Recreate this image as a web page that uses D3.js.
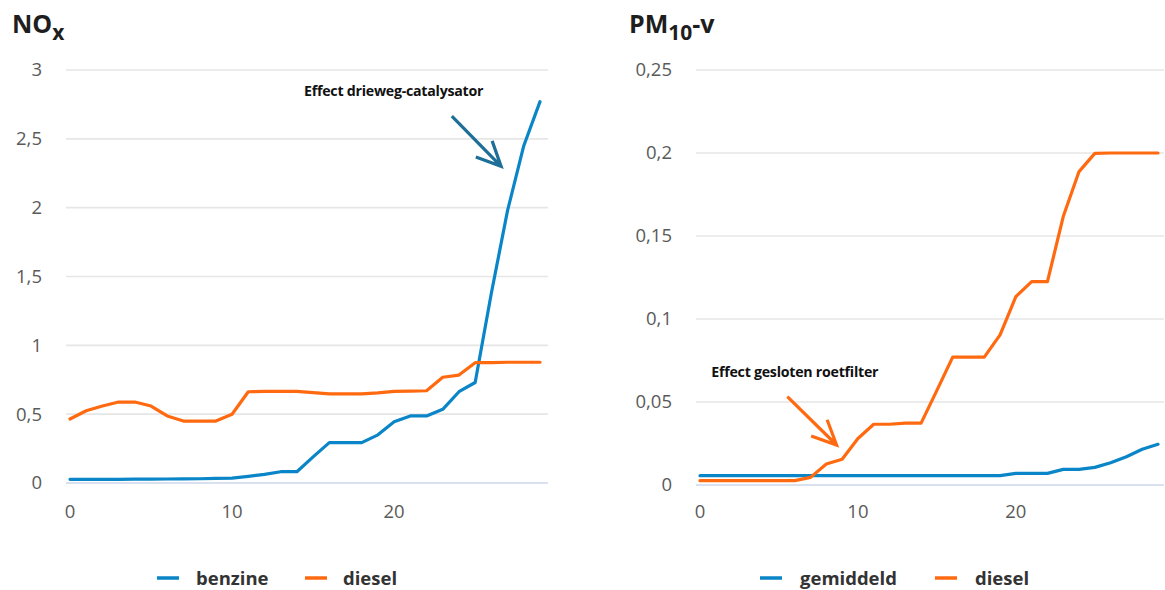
<!DOCTYPE html>
<html>
<head>
<meta charset="utf-8">
<script src="https://cdn.jsdelivr.net/npm/d3@7"></script>
<style>
  html, body { margin: 0; padding: 0; background: #fff; }
  svg { display: block; font-family: "Open Sans", "Noto Sans", sans-serif; }
</style>
</head>
<body>
<svg id="chart" width="1165" height="590"></svg>
<script>
// ---------- data ----------
const years = d3.range(0, 30);               // x categories 0..29
const noxTicksX = [0, 10, 20];
const noxTicksY = [0, 0.5, 1, 1.5, 2, 2.5, 3];
const pmTicksY = [0, 0.05, 0.1, 0.15, 0.2, 0.25];

const noxBenzine = [0.027, 0.027, 0.027, 0.027, 0.028, 0.028, 0.029, 0.030, 0.031, 0.033,
                    0.035, 0.048, 0.063, 0.082, 0.082, 0.190, 0.293, 0.293, 0.293, 0.350,
                    0.445, 0.487, 0.487, 0.535, 0.663, 0.730, 1.380, 1.980, 2.450, 2.770];
const noxDiesel  = [0.465, 0.525, 0.559, 0.588, 0.588, 0.559, 0.487, 0.450, 0.450, 0.450,
                    0.499, 0.663, 0.665, 0.665, 0.665, 0.656, 0.648, 0.648, 0.648, 0.655,
                    0.665, 0.668, 0.670, 0.768, 0.784, 0.874, 0.875, 0.877, 0.877, 0.877];

const pmGemiddeld = [0.0056, 0.0056, 0.0056, 0.0056, 0.0056, 0.0056, 0.0056, 0.0056, 0.0056, 0.0056,
                     0.0056, 0.0056, 0.0056, 0.0056, 0.0056, 0.0056, 0.0056, 0.0056, 0.0056, 0.0056,
                     0.0070, 0.0070, 0.0070, 0.0094, 0.0094, 0.0106, 0.0134, 0.0170, 0.0215, 0.0245];
const pmDiesel    = [0.0026, 0.0026, 0.0026, 0.0026, 0.0026, 0.0026, 0.0026, 0.0046, 0.0127, 0.0155,
                     0.0280, 0.0366, 0.0366, 0.0373, 0.0373, 0.0570, 0.0770, 0.0770, 0.0770, 0.0904,
                     0.1135, 0.1225, 0.1225, 0.1617, 0.1888, 0.1998, 0.2000, 0.2000, 0.2000, 0.2000];

const noxLegend = ["benzine", "diesel"];
const pmLegend = ["gemiddeld", "diesel"];

// annotations (in data units)
const noxNote = { text: "Effect drieweg-catalysator", x: 19.97, y: 2.81, from: [23.56, 2.665], to: [26.6, 2.30] };
const pmNote  = { text: "Effect gesloten roetfilter", x: 6.0, y: 0.0652, from: [5.53, 0.0532], to: [8.65, 0.0241] };

// ---------- styles ----------
const BLUE = "#0a85c7";
const ORANGE = "#ff6a10";
const ARROW_BLUE = "#1d6f98";
const GRID = "#e6e6e6";
const ZERO = "#ccd6eb";

const svg = d3.select("#chart");

function formatNL(v) {
  return d3.format("~g")(v).replace(".", ",");
}

function drawPanel(cfg) {
  const g = svg.append("g");
  const x = d3.scaleLinear().domain([0, 29]).range(cfg.xRange);
  const y = d3.scaleLinear().domain(cfg.yDomain).range(cfg.yRange);

  // gridlines
  g.append("g").selectAll("line").data(cfg.yTicks).join("line")
    .attr("x1", cfg.gridX[0]).attr("x2", cfg.gridX[1])
    .attr("y1", d => y(d)).attr("y2", d => y(d))
    .attr("stroke", d => d === 0 ? ZERO : GRID)
    .attr("stroke-width", 1.6);

  // y labels
  g.append("g").selectAll("text").data(cfg.yTicks).join("text")
    .attr("x", cfg.yLabelX).attr("y", d => y(d))
    .attr("dy", "0.35em")
    .attr("text-anchor", "end")
    .attr("font-size", 18.5)
    .attr("fill", "#5a5a5a")
    .text(d => formatNL(d));

  // x labels
  g.append("g").selectAll("text").data(noxTicksX).join("text")
    .attr("x", d => x(d)).attr("y", 518)
    .attr("text-anchor", "middle")
    .attr("font-size", 18.5)
    .attr("fill", "#5a5a5a")
    .text(d => d);

  // lines
  const line = d3.line().x((d, i) => x(years[i])).y(d => y(d));
  cfg.series.forEach(s => {
    g.append("path").datum(s.values)
      .attr("d", line)
      .attr("fill", "none")
      .attr("stroke", s.color)
      .attr("stroke-width", 3.2)
      .attr("stroke-linejoin", "round")
      .attr("stroke-linecap", "round");
  });

  // annotation
  const n = cfg.note;
  g.append("text")
    .attr("x", x(n.x)).attr("y", y(n.y))
    .attr("text-anchor", "middle")
    .attr("font-size", 14.2)
    .attr("font-weight", 700)
    .attr("letter-spacing", -0.25)
    .attr("fill", "#111")
    .text(n.text);
  const sx = x(n.from[0]), sy = y(n.from[1]);
  const tx = x(n.to[0]), ty = y(n.to[1]);
  const ang = Math.atan2(sy - ty, sx - tx);
  const L = 27, da = 25 * Math.PI / 180;
  const w1 = [tx + L * Math.cos(ang + da), ty + L * Math.sin(ang + da)];
  const w2 = [tx + L * Math.cos(ang - da), ty + L * Math.sin(ang - da)];
  g.append("path")
    .attr("d", `M${sx},${sy}L${tx},${ty}M${w1[0]},${w1[1]}L${tx},${ty}L${w2[0]},${w2[1]}`)
    .attr("fill", "none")
    .attr("stroke", cfg.arrowColor)
    .attr("stroke-width", 3.2)
    .attr("stroke-linejoin", "miter")
    .attr("stroke-linecap", "butt");

  // title
  const t = g.append("text")
    .attr("x", cfg.titleX).attr("y", 33)
    .attr("font-size", 25)
    .attr("font-weight", 700)
    .attr("fill", "#1e1e1e");
  cfg.title.forEach(part => {
    t.append("tspan")
      .attr("font-size", part.sub ? 21 : 25)
      .attr("dy", part.dy || 0)
      .text(part.t);
  });

  // legend
  const lg = g.append("g");
  cfg.legend.forEach((name, i) => {
    const it = cfg.legendPos[i];
    lg.append("line")
      .attr("x1", it.lx).attr("x2", it.lx + 22)
      .attr("y1", 578).attr("y2", 578)
      .attr("stroke", cfg.series[i].color)
      .attr("stroke-width", 3.5);
    lg.append("text")
      .attr("x", it.tx).attr("y", 584.5)
      .attr("font-size", 18.5)
      .attr("font-weight", 700)
      .attr("fill", "#333")
      .text(name);
  });
}

drawPanel({
  xRange: [70, 540],
  yDomain: [0, 3],
  yRange: [483, 70],
  yTicks: noxTicksY,
  gridX: [66, 548],
  yLabelX: 42,
  series: [{ values: noxBenzine, color: BLUE }, { values: noxDiesel, color: ORANGE }],
  note: noxNote,
  arrowColor: ARROW_BLUE,
  titleX: 12,
  title: [{ t: "NO" }, { t: "x", sub: true, dy: 7 }],
  legend: noxLegend,
  legendPos: [{ lx: 157, tx: 196 }, { lx: 305, tx: 343 }]
});

drawPanel({
  xRange: [700, 1158],
  yDomain: [0, 0.25],
  yRange: [485, 70],
  yTicks: pmTicksY,
  gridX: [696, 1164],
  yLabelX: 672,
  series: [{ values: pmGemiddeld, color: BLUE }, { values: pmDiesel, color: ORANGE }],
  note: pmNote,
  arrowColor: ORANGE,
  titleX: 629,
  title: [{ t: "PM" }, { t: "10", sub: true, dy: 7 }, { t: "-v", dy: -7 }],
  legend: pmLegend,
  legendPos: [{ lx: 760, tx: 800 }, { lx: 935, tx: 975 }]
});
</script>
</body>
</html>
